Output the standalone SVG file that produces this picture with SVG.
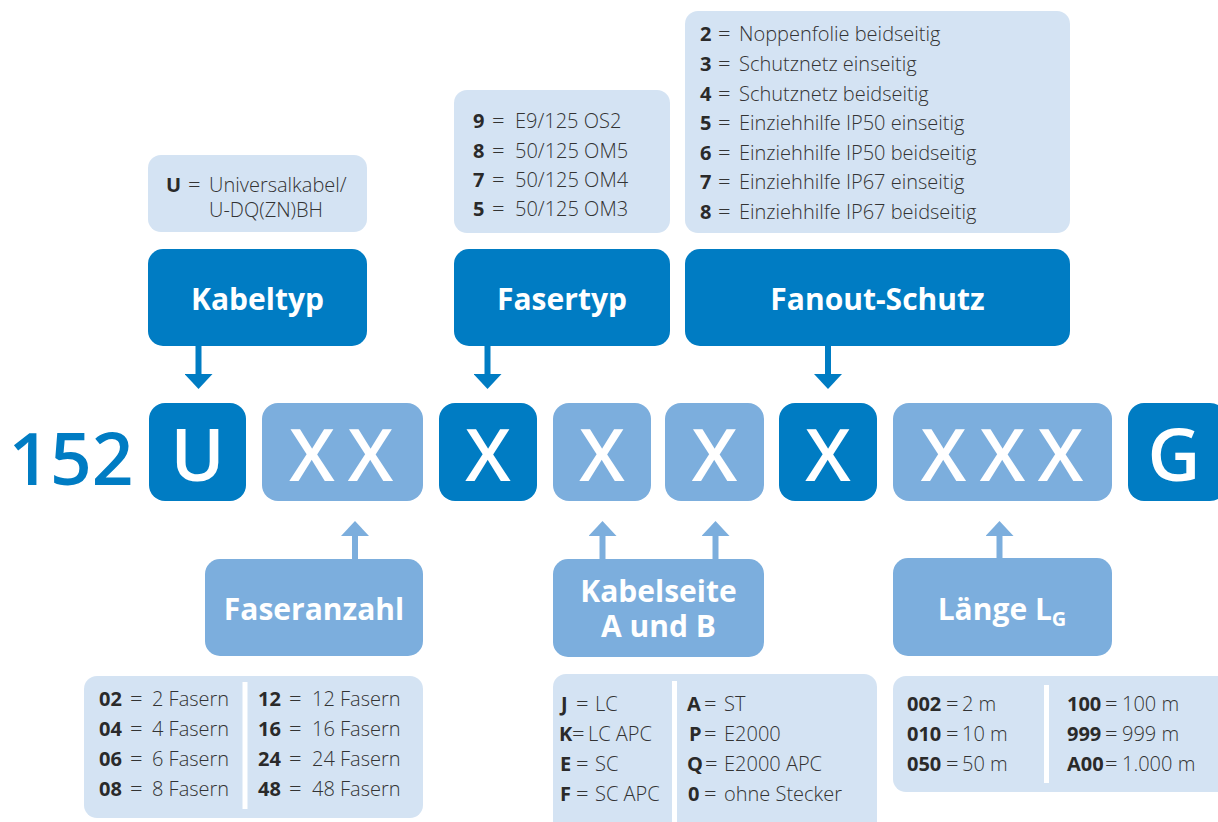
<svg xmlns="http://www.w3.org/2000/svg" width="1218" height="822" viewBox="0 0 1218 822">
<style>
.dark{fill:#007cc3}
.light{fill:#7caedd}
.pale{fill:#d4e3f3}
.code{font-family:"Open Sans","Noto Sans",sans-serif;font-weight:600;font-size:73px;fill:#fff;text-anchor:middle}
.head{font-family:"Open Sans","Noto Sans",sans-serif;font-weight:700;font-size:30px;fill:#fff;text-anchor:middle}
.info{font-family:"Open Sans","Noto Sans",sans-serif;font-weight:300;font-size:20px;fill:#333}
.b{font-weight:700;fill:#2a2a2a}
.eq{font-size:22px}
.div{stroke:#fff;stroke-width:5}
.arrD{stroke:#007cc3;stroke-width:6;fill:none}
.arrL{stroke:#7caedd;stroke-width:6;fill:none}
</style>
<defs>
<marker id="mD" viewBox="0 0 15 28" markerWidth="15" markerHeight="28" refX="0" refY="14" orient="auto" markerUnits="userSpaceOnUse"><path d="M0,0 L15,14 L0,28 Z" fill="#007cc3"/></marker>
<marker id="mL" viewBox="0 0 15 28" markerWidth="15" markerHeight="28" refX="0" refY="14" orient="auto" markerUnits="userSpaceOnUse"><path d="M0,0 L15,14 L0,28 Z" fill="#7caedd"/></marker>
</defs>
<rect width="1218" height="822" fill="#fff"/>

<g id="connectors">
<line class="arrD" x1="198.5" y1="345" x2="198.5" y2="374" marker-end="url(#mD)"/>
<line class="arrD" x1="487.5" y1="345" x2="487.5" y2="374" marker-end="url(#mD)"/>
<line class="arrD" x1="828" y1="345" x2="828" y2="374" marker-end="url(#mD)"/>
<line class="arrL" x1="355" y1="560" x2="355" y2="536" marker-end="url(#mL)"/>
<line class="arrL" x1="602.5" y1="560" x2="602.5" y2="536" marker-end="url(#mL)"/>
<line class="arrL" x1="715.5" y1="560" x2="715.5" y2="536" marker-end="url(#mL)"/>
<line class="arrL" x1="999.5" y1="560" x2="999.5" y2="536" marker-end="url(#mL)"/>
</g>

<g id="prefix">
<text x="71" y="485" style="font-family:'Open Sans','Noto Sans',sans-serif;font-weight:600;font-size:73px;fill:#007cc3;text-anchor:middle">152</text>
</g>

<g id="code-U"><rect class="dark" x="149" y="403" width="97" height="98" rx="16"/><text class="code" x="197.5" y="481">U</text></g>
<g id="code-XX"><rect class="light" x="262" y="403" width="161" height="98" rx="16"/><text class="code" y="481"><tspan x="312">X</tspan><tspan x="370.5">X</tspan></text></g>
<g id="code-X1"><rect class="dark" x="439" y="403" width="98" height="98" rx="16"/><text class="code" x="488" y="481">X</text></g>
<g id="code-X2"><rect class="light" x="553" y="403" width="98" height="98" rx="16"/><text class="code" x="602" y="481">X</text></g>
<g id="code-X3"><rect class="light" x="665" y="403" width="99" height="98" rx="16"/><text class="code" x="714.5" y="481">X</text></g>
<g id="code-X4"><rect class="dark" x="779" y="403" width="98" height="98" rx="16"/><text class="code" x="828" y="481">X</text></g>
<g id="code-XXX"><rect class="light" x="893" y="403" width="219" height="98" rx="16"/><text class="code" y="481"><tspan x="943.5">X</tspan><tspan x="1002.5">X</tspan><tspan x="1060.5">X</tspan></text></g>
<g id="code-G"><rect class="dark" x="1128" y="403" width="98" height="98" rx="16"/><text class="code" x="1174" y="481">G</text></g>

<g id="head-kabeltyp"><rect class="dark" x="148" y="249" width="219" height="97" rx="15"/><text class="head" x="257.5" y="310">Kabeltyp</text></g>
<g id="head-fasertyp"><rect class="dark" x="454" y="249" width="216" height="97" rx="15"/><text class="head" x="562" y="310">Fasertyp</text></g>
<g id="head-fanout"><rect class="dark" x="685" y="249" width="385" height="97" rx="15"/><text class="head" x="877.5" y="310">Fanout-Schutz</text></g>

<g id="head-faseranzahl"><rect class="light" x="205" y="559" width="218" height="97" rx="15"/><text class="head" x="314" y="620">Faseranzahl</text></g>
<g id="head-kabelseite"><rect class="light" x="553" y="559" width="211" height="98" rx="15"/><text class="head"><tspan x="658.5" y="602">Kabelseite</tspan><tspan x="658.5" y="637">A und B</tspan></text></g>
<g id="head-laenge"><rect class="light" x="893" y="558" width="219" height="98" rx="15"/><text class="head" x="1002" y="620">Länge L<tspan font-size="20" dy="6">G</tspan></text></g>

<g id="info-kabeltyp"><rect class="pale" x="148" y="155" width="219" height="77" rx="13"/>
<text class="info" y="192"><tspan class="b" x="166">U</tspan><tspan class="eq" x="188">=</tspan><tspan x="209">Universalkabel/</tspan></text>
<text class="info" x="209" y="217">U-DQ(ZN)BH</text></g>

<g id="info-fasertyp"><rect class="pale" x="454" y="90" width="216" height="143" rx="13"/>
<text class="info" y="128"><tspan class="b" x="473">9</tspan><tspan class="eq" x="492">=</tspan><tspan x="515">E9/125 OS2</tspan></text>
<text class="info" y="158"><tspan class="b" x="473">8</tspan><tspan class="eq" x="492">=</tspan><tspan x="515">50/125 OM5</tspan></text>
<text class="info" y="187"><tspan class="b" x="473">7</tspan><tspan class="eq" x="492">=</tspan><tspan x="515">50/125 OM4</tspan></text>
<text class="info" y="216"><tspan class="b" x="473">5</tspan><tspan class="eq" x="492">=</tspan><tspan x="515">50/125 OM3</tspan></text></g>

<g id="info-fanout"><rect class="pale" x="685" y="11" width="385" height="222" rx="13"/>
<text class="info" y="41"><tspan class="b" x="700">2</tspan><tspan class="eq" x="718">=</tspan><tspan x="739">Noppenfolie beidseitig</tspan></text>
<text class="info" y="71"><tspan class="b" x="700">3</tspan><tspan class="eq" x="718">=</tspan><tspan x="739">Schutznetz einseitig</tspan></text>
<text class="info" y="101"><tspan class="b" x="700">4</tspan><tspan class="eq" x="718">=</tspan><tspan x="739">Schutznetz beidseitig</tspan></text>
<text class="info" y="130"><tspan class="b" x="700">5</tspan><tspan class="eq" x="718">=</tspan><tspan x="739">Einziehhilfe IP50 einseitig</tspan></text>
<text class="info" y="160"><tspan class="b" x="700">6</tspan><tspan class="eq" x="718">=</tspan><tspan x="739">Einziehhilfe IP50 beidseitig</tspan></text>
<text class="info" y="189"><tspan class="b" x="700">7</tspan><tspan class="eq" x="718">=</tspan><tspan x="739">Einziehhilfe IP67 einseitig</tspan></text>
<text class="info" y="219"><tspan class="b" x="700">8</tspan><tspan class="eq" x="718">=</tspan><tspan x="739">Einziehhilfe IP67 beidseitig</tspan></text></g>

<g id="info-faseranzahl"><rect class="pale" x="84" y="676" width="339" height="142" rx="13"/>
<line class="div" x1="245" y1="682" x2="245" y2="809"/>
<text class="info" y="706"><tspan class="b" x="99">02</tspan><tspan class="eq" x="130">=</tspan><tspan x="152">2 Fasern</tspan><tspan class="b" x="258">12</tspan><tspan class="eq" x="289">=</tspan><tspan x="312">12 Fasern</tspan></text>
<text class="info" y="736"><tspan class="b" x="99">04</tspan><tspan class="eq" x="130">=</tspan><tspan x="152">4 Fasern</tspan><tspan class="b" x="258">16</tspan><tspan class="eq" x="289">=</tspan><tspan x="312">16 Fasern</tspan></text>
<text class="info" y="766"><tspan class="b" x="99">06</tspan><tspan class="eq" x="130">=</tspan><tspan x="152">6 Fasern</tspan><tspan class="b" x="258">24</tspan><tspan class="eq" x="289">=</tspan><tspan x="312">24 Fasern</tspan></text>
<text class="info" y="796"><tspan class="b" x="99">08</tspan><tspan class="eq" x="130">=</tspan><tspan x="152">8 Fasern</tspan><tspan class="b" x="258">48</tspan><tspan class="eq" x="289">=</tspan><tspan x="312">48 Fasern</tspan></text></g>

<g id="info-kabelseite"><rect class="pale" x="553" y="674" width="324" height="170" rx="13"/>
<line class="div" x1="674.5" y1="681" x2="674.5" y2="822"/>
<text class="info" y="711"><tspan class="b" x="561">J</tspan><tspan class="eq" x="576">=</tspan><tspan x="595">LC</tspan><tspan class="b" x="687">A</tspan><tspan class="eq" x="704">=</tspan><tspan x="724">ST</tspan></text>
<text class="info" y="741"><tspan class="b" x="559">K</tspan><tspan class="eq" x="572">=</tspan><tspan x="588">LC APC</tspan><tspan class="b" x="689">P</tspan><tspan class="eq" x="704">=</tspan><tspan x="724">E2000</tspan></text>
<text class="info" y="771"><tspan class="b" x="560">E</tspan><tspan class="eq" x="576">=</tspan><tspan x="595">SC</tspan><tspan class="b" x="687">Q</tspan><tspan class="eq" x="705">=</tspan><tspan x="724">E2000 APC</tspan></text>
<text class="info" y="801"><tspan class="b" x="560">F</tspan><tspan class="eq" x="576">=</tspan><tspan x="595">SC APC</tspan><tspan class="b" x="688">0</tspan><tspan class="eq" x="704">=</tspan><tspan x="724">ohne Stecker</tspan></text></g>

<g id="info-laenge"><rect class="pale" x="893" y="676" width="340" height="116" rx="13"/>
<line class="div" x1="1046.5" y1="685" x2="1046.5" y2="783"/>
<text class="info" y="711"><tspan class="b" x="907">002</tspan><tspan class="eq" x="946">=</tspan><tspan x="962">2 m</tspan><tspan class="b" x="1067">100</tspan><tspan class="eq" x="1105">=</tspan><tspan x="1122">100 m</tspan></text>
<text class="info" y="741"><tspan class="b" x="907">010</tspan><tspan class="eq" x="946">=</tspan><tspan x="962">10 m</tspan><tspan class="b" x="1067">999</tspan><tspan class="eq" x="1105">=</tspan><tspan x="1122">999 m</tspan></text>
<text class="info" y="771"><tspan class="b" x="907">050</tspan><tspan class="eq" x="946">=</tspan><tspan x="962">50 m</tspan><tspan class="b" x="1067">A00</tspan><tspan class="eq" x="1105">=</tspan><tspan x="1122">1.000 m</tspan></text></g>
</svg>
